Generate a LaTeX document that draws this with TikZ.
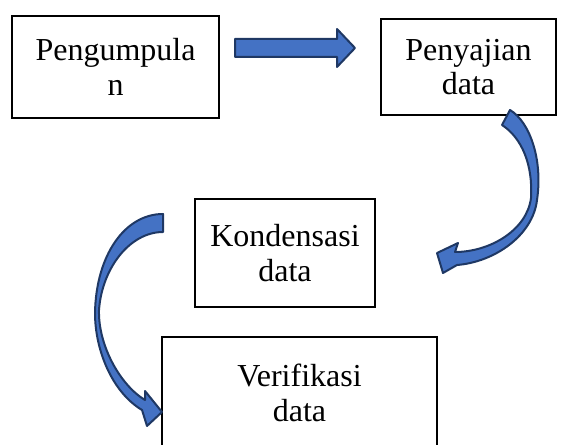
\documentclass[tikz,border=0pt]{standalone}
\usepackage{fontspec}
\setmainfont{Liberation Serif}
\definecolor{ArrowBlue}{HTML}{4472C4}
\definecolor{ArrowNavy}{HTML}{1F3864}
\usetikzlibrary{calc}

\begin{document}
\begin{tikzpicture}[x=0.75pt,y=-0.75pt,
    stagebox/.style={draw, line width=1.6pt, align=center, inner sep=0pt,
        font=\fontsize{24}{26}\selectfont},
    blockarrow/.style={fill=ArrowBlue, draw=ArrowNavy, line width=1.5pt, line join=round}]
        \useasboundingbox (0,0) rectangle (571,445);

        % the four boxes
        \node[stagebox, minimum width=155.25pt, minimum height=76.5pt] (pengumpulan) at (115.5,67) {Pengumpula\\n};
        \node[stagebox, minimum width=131.25pt, minimum height=72pt] (penyajian) at (468.5,67) {Penyajian\\data};
        \node[stagebox, minimum width=135pt, minimum height=81pt] (kondensasi) at (285,253) {Kondensasi\\data};
        \node[stagebox, minimum width=206.25pt, minimum height=84pt] (verifikasi) at (299.5,393) {Verifikasi\\data};

        % straight arrow
        \draw[blockarrow] (235,39) -- (337,39) -- (337,29) -- (355,48) -- (337,67) -- (337,57) -- (235,57) -- cycle;

        % curved arrow on the right
        \draw[blockarrow] (510,110) .. controls (530,122) and (543,160) .. (537,200)
            .. controls (533,235) and (495,262) .. (457,265)
            -- (443,273) -- (437,253) -- (458,243) -- (455,252)
            .. controls (490,252) and (527,230) .. (531,198)
            .. controls (533,165) and (522,138) .. (502,125) -- cycle;

        % curved arrow on the left
        \draw[blockarrow] (163,214) -- (163,232)
            .. controls (130,232) and (102,268) .. (99,310)
            .. controls (98,345) and (120,385) .. (145,400)
            -- (145,391) -- (162,412) -- (147,426) -- (142,410)
            .. controls (112,392) and (95,350) .. (95,313)
            .. controls (96,255) and (125,214) .. (163,214) -- cycle;
    \end{tikzpicture}
\end{document}
